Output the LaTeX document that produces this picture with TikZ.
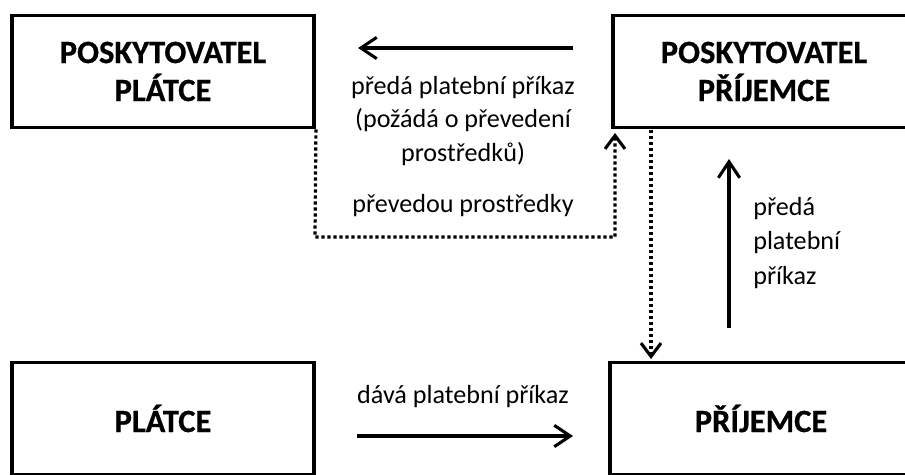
\documentclass[tikz,border=0pt]{standalone}
\usepackage{fontspec}
\setmainfont{Carlito}[BoldFeatures={FakeBold=0.6}]
\usetikzlibrary{arrows.meta}
\begin{document}
\begin{tikzpicture}[x=0.75pt,y=-0.75pt,
  box/.style={draw,line width=2.9pt,minimum width=302*0.75pt,minimum height=112*0.75pt,
    align=center,font=\fontsize{24.4pt}{28.5pt}\selectfont\bfseries,inner sep=0pt},
  lbl/.style={align=center,font=\fontsize{19.6pt}{24.8pt}\selectfont,inner sep=0pt},
  arr/.style={line width=2.3pt,-{Straight Barb[length=12pt,width=16pt,line width=2.3pt]}},
  dotarr/.style={line width=2.4pt,dash pattern=on 2.4pt off 2.1pt,
    -{Straight Barb[length=10pt,width=15pt,line width=2.3pt,line cap=butt]}}]
\useasboundingbox (0,0) rectangle (905,474);
\clip (0,0) rectangle (905,474);
\node[box] (pp) at (163,71.5) {POSKYTOVATEL\\PLÁTCE};
\node[box] (ppr) at (764,71.5) {POSKYTOVATEL\\PŘÍJEMCE};
\node[box] (pl) at (163,418.5) {PLÁTCE};
\node[box] (pr) at (761,418.5) {PŘÍJEMCE};
% top solid arrow
\coordinate (a1s) at (573,48);
\coordinate (a1e) at (358,48);
\draw[arr] (a1s) -- (a1e);
\node[lbl] (l1) at (463,121) {předá platební příkaz\\(požádá o převedení\\prostředků)};
\node[lbl] (l2) at (463,206) {převedou prostředky};
% dotted path
\coordinate (d1) at (315,237);
\coordinate (d2) at (615,133);
\draw[dotarr] (pp.south east) -- (d1) -| (d2);
% dotted down arrow
\coordinate (d3) at (651,130);
\coordinate (d4) at (651,359);
\draw[dotarr] (d3) -- (d4);
% up arrow
\coordinate (u1) at (729,328);
\coordinate (u2) at (729,159);
\draw[arr] (u1) -- (u2);
\node[lbl,align=left,anchor=west,font=\fontsize{19.6pt}{26.2pt}\selectfont] (l3) at (753,243) {předá\\platební\\příkaz};
% bottom arrow
\coordinate (b1) at (357,436);
\coordinate (b2) at (573,436);
\draw[arr] (b1) -- (b2);
\node[lbl] (l4) at (463,397) {dává platební příkaz};
\end{tikzpicture}
\end{document}
